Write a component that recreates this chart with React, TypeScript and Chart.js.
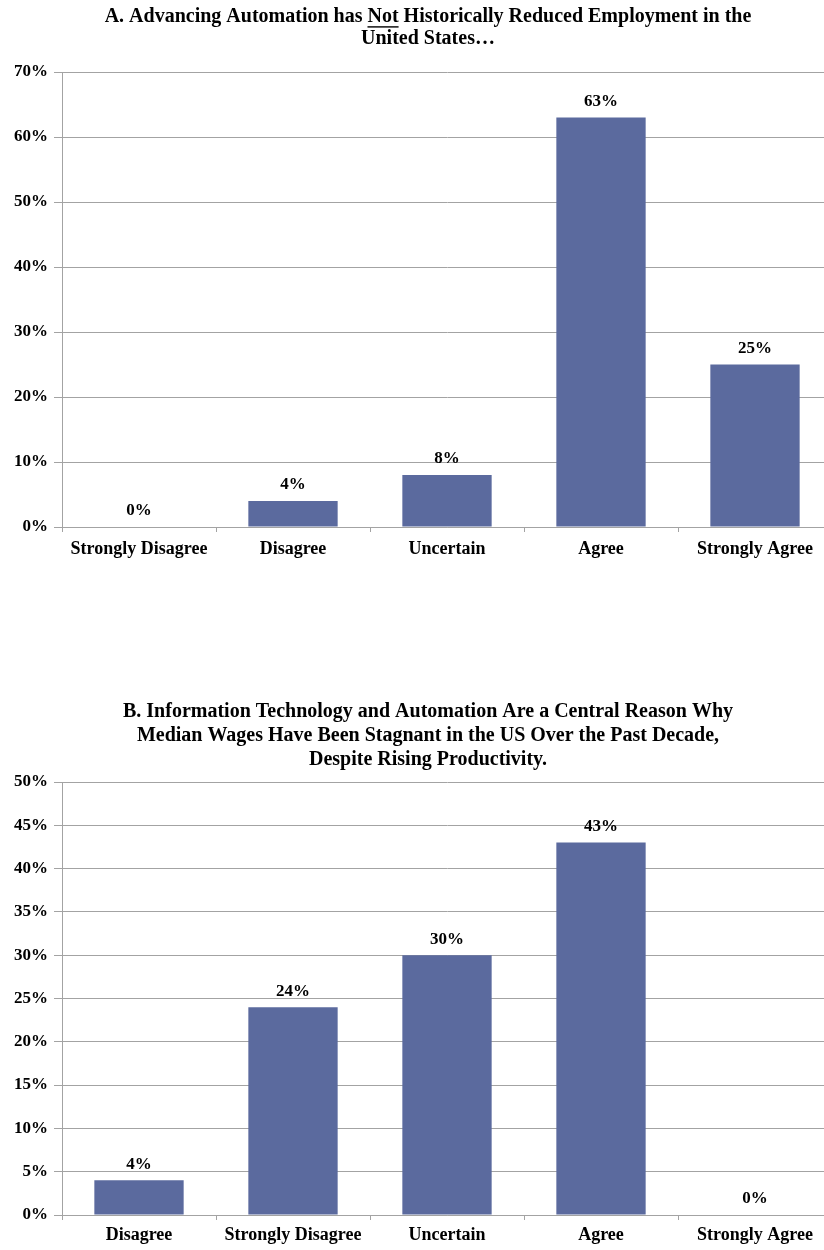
import React, { useEffect, useRef } from "react";
import { Chart, registerables } from "chart.js";

Chart.register(...registerables);

const categoriesA = ["Strongly Disagree", "Disagree", "Uncertain", "Agree", "Strongly Agree"];
const valuesA = [0, 4, 8, 63, 25];
const titleA = ["A. Advancing Automation has Not Historically Reduced Employment in the", "United States…"];
const yMaxA = 70;
const yStepA = 10;

const categoriesB = ["Disagree", "Strongly Disagree", "Uncertain", "Agree", "Strongly Agree"];
const valuesB = [4, 24, 30, 43, 0];
const titleB = [
  "B. Information Technology and Automation Are a Central Reason Why",
  "Median Wages Have Been Stagnant in the US Over the Past Decade,",
  "Despite Rising Productivity.",
];
const yMaxB = 50;
const yStepB = 5;

const FONT = '"Liberation Serif", "Times New Roman", serif';
const BAR = "#5b6a9e";
const GRID = "#a3a3a3";

const labelPlugin = {
  id: "valueLabels",
  afterDatasetsDraw(chart: any) {
    const ctx = chart.ctx;
    ctx.save();
    ctx.font = `bold 17px ${FONT}`;
    ctx.fillStyle = "#000";
    ctx.textAlign = "center";
    ctx.textBaseline = "middle";
    chart.data.datasets.forEach((ds: any, di: number) => {
      const meta = chart.getDatasetMeta(di);
      meta.data.forEach((el: any, i: number) => {
        ctx.fillText(ds.data[i] + "%", el.x, el.y - 16);
      });
    });
    ctx.restore();
  },
};

const titlePlugin = {
  id: "customTitle",
  afterDraw(chart: any, _args: any, opts: any) {
    const ctx = chart.ctx;
    const lines: string[] = opts.lines || [];
    ctx.save();
    ctx.font = `bold ${opts.size}px ${FONT}`;
    ctx.fillStyle = "#000";
    ctx.textAlign = "center";
    ctx.textBaseline = "middle";
    lines.forEach((line, i) => {
      const y = opts.firstY + i * opts.lineHeight;
      ctx.fillText(line, opts.centerX, y);
      if (opts.underline && opts.underline.line === i) {
        const w = ctx.measureText(line).width;
        const start = opts.centerX - w / 2;
        const idx = line.indexOf(opts.underline.word);
        const pre = ctx.measureText(line.slice(0, idx)).width;
        const ww = ctx.measureText(opts.underline.word).width;
        ctx.fillRect(start + pre, y + opts.size * 0.46, ww, 1.4);
      }
    });
    ctx.restore();
  },
};

function makeConfig(
  categories: string[],
  values: number[],
  yMax: number,
  yStep: number,
  padTop: number,
  xAxisHeight: number,
  xPad: number,
  title: any
): any {
  return {
    type: "bar",
    data: {
      labels: categories,
      datasets: [
        {
          data: values,
          backgroundColor: BAR,
          borderWidth: 0,
          barPercentage: 0.58,
          categoryPercentage: 1.0,
        },
      ],
    },
    options: {
      responsive: false,
      animation: false,
      layout: { padding: { top: padTop, left: 0, right: 0, bottom: 0 } },
      plugins: {
        legend: { display: false },
        tooltip: { enabled: false },
        title: { display: false },
        customTitle: title,
      },
      scales: {
        x: {
          grid: {
            drawOnChartArea: false,
            drawTicks: true,
            tickLength: 5,
            color: GRID,
            offset: true,
          },
          border: { display: true, color: GRID, width: 1 },
          ticks: {
            color: "#000",
            padding: xPad,
            font: { family: FONT, size: 18, weight: "bold" },
            maxRotation: 0,
            autoSkip: false,
          },
          afterFit: (s: any) => {
            s.height = xAxisHeight;
          },
        },
        y: {
          min: 0,
          max: yMax,
          grid: { color: GRID, tickLength: 8, lineWidth: 1 },
          border: { display: true, color: GRID, width: 1 },
          ticks: {
            stepSize: yStep,
            color: "#000",
            padding: 6,
            font: { family: FONT, size: 17, weight: "bold" },
            callback: (v: any) => v + "%",
          },
          afterFit: (s: any) => {
            s.width = 62;
          },
        },
      },
    },
    plugins: [labelPlugin, titlePlugin],
  };
}

function BarChart(props: { config: any; width: number; height: number; top: number }) {
  const ref = useRef<HTMLCanvasElement | null>(null);
  useEffect(() => {
    if (!ref.current) return;
    const chart = new Chart(ref.current, props.config);
    return () => chart.destroy();
  }, []);
  return (
    <canvas
      ref={ref}
      width={props.width}
      height={props.height}
      style={{ position: "absolute", left: 0, top: props.top, width: props.width, height: props.height }}
    />
  );
}

export default function App() {
  const cfgA = makeConfig(categoriesA, valuesA, yMaxA, yStepA, 72, 40, 7, {
    lines: titleA,
    size: 20,
    centerX: 428,
    firstY: 17,
    lineHeight: 22,
    underline: { line: 0, word: "Not" },
  });
  const cfgB = makeConfig(categoriesB, valuesB, yMaxB, yStepB, 102, 35, 5, {
    lines: titleB,
    size: 20,
    centerX: 428,
    firstY: 32,
    lineHeight: 24,
  });
  return (
    <div
      style={{
        position: "absolute",
        left: 0,
        top: 0,
        width: 824,
        height: 1250,
        overflow: "hidden",
        background: "#fff",
      }}
    >
      <BarChart config={cfgA} width={832} height={567} top={0} />
      <BarChart config={cfgB} width={832} height={570} top={680} />
    </div>
  );
}
